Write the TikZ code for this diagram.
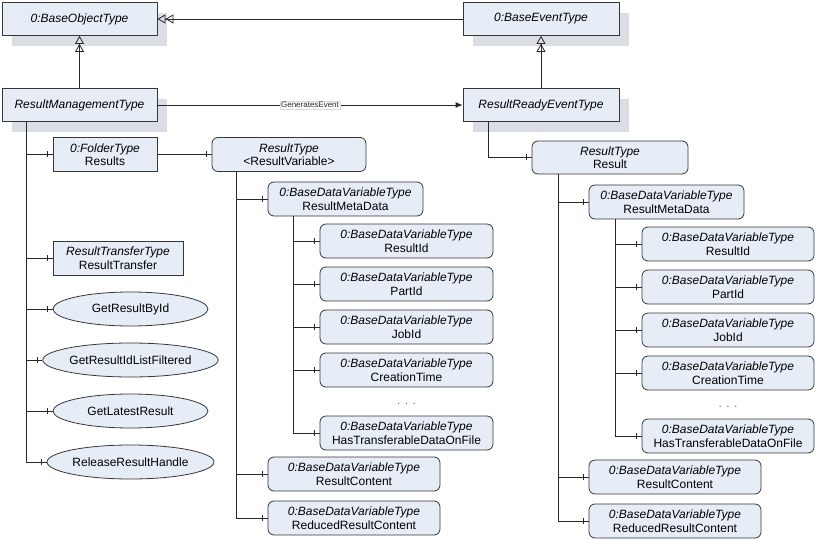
\documentclass[tikz,border=0pt]{standalone}
\usepackage{fontspec}
\setmainfont{Liberation Sans}
\usepackage{tikz}
\usetikzlibrary{shapes.geometric, arrows.meta, positioning, shadows,
                decorations.markings}
\definecolor{myfill}{RGB}{231,237,247}
\definecolor{myshadow}{RGB}{218,221,227}
\definecolor{myborder}{RGB}{55,55,55}
\definecolor{mydark}{RGB}{40,40,40}
\definecolor{mydots}{RGB}{110,110,110}
\newcommand{\uafont}{\fontsize{12}{13.5}\selectfont}
\tikzset{
  typebox/.style={rectangle, draw=myborder, fill=myfill,
    minimum width=155pt, minimum height=33pt, inner sep=1pt,
    font=\uafont\itshape, line width=0.8pt,
    general shadow={fill=myshadow, shadow xshift=10pt, shadow yshift=-11pt}},
  objbox/.style={rectangle, draw=myborder, fill=myfill, align=center,
    minimum height=34pt, inner sep=1pt, font=\uafont, line width=0.8pt},
  varbox/.style={objbox, rounded corners=6pt},
  methnode/.style={ellipse, draw=myborder, fill=myfill, minimum width=155pt,
    minimum height=34pt, inner sep=1pt, font=\uafont, line width=0.8pt},
  subtype/.style={-{Triangle[open,length=8pt,width=9pt]Triangle[open,length=8pt,width=9pt]},
    line width=0.8pt, color=mydark},
  genref/.style={-{Latex[length=7pt,width=6pt]}, line width=0.8pt, color=mydark},
  hasref/.style={line width=0.8pt, color=mydark, postaction={decorate,
    decoration={markings, mark=at position -5pt with
      {\draw[line width=0.8pt] (0,-3pt) -- (0,3pt);}}}},
  evlabel/.style={fill=white, draw=black!15, line width=0.3pt, inner sep=1pt,
    font=\fontsize{8}{9}\selectfont},
  dotlabel/.style={font=\uafont, text=mydots}
}

\begin{document}
\begin{tikzpicture}[x=1pt, y=-1pt]
  \useasboundingbox (0,0) rectangle (816,540);
  % type hierarchy
  \node[typebox] (bot) at (79.5,19) {0:BaseObjectType};
  \node[typebox] (rmt) at (79.5,105) {ResultManagementType};
  \node[typebox, minimum width=156pt] (bet) at (541,19) {0:BaseEventType};
  \node[typebox, minimum width=156pt] (rret) at (541,105) {ResultReadyEventType};
  \draw[subtype] (rmt) -- (bot);
  \draw[subtype] (rret) -- (bet);
  \draw[subtype] (bet) -- (bot);
  \draw[genref] (rmt) -- node[evlabel] {GeneratesEvent} (rret);

  % components of ResultManagementType
  \node[objbox, minimum width=104pt] (folder) at (105,154.5) {\textit{0:FolderType}\\Results};
  \node[objbox, minimum width=130pt] (xfer) at (118,258) {\textit{ResultTransferType}\\ResultTransfer};
  \foreach \nm/\y in {GetResultById/309, GetResultIdListFiltered/360,
                      GetLatestResult/411, ReleaseResultHandle/462}
    \node[methnode] (\nm) at (130.5,\y) {\nm};
  \foreach \nm in {folder, xfer, GetResultById, GetResultIdListFiltered,
                   GetLatestResult, ReleaseResultHandle}
    \draw[hasref] ([xshift=25pt]rmt.south west) |- (\nm.west);

  % result variable in the folder
  \node[varbox, minimum width=154pt] (rtype) at (289,154.5) {\textit{ResultType}\\<ResultVariable>};
  \draw[hasref] (folder) -- (rtype);
  \node[varbox, minimum width=155pt] (lmeta) at (345.5,199) {\textit{0:BaseDataVariableType}\\ResultMetaData};
  \foreach \nm/\txt/\y in {lrid/ResultId/241, lpid/PartId/284, ljid/JobId/327,
                           lct/CreationTime/370, lhtd/HasTransferableDataOnFile/433}
    \node[varbox, minimum width=173pt] (\nm) at (406.5,\y) {\textit{0:BaseDataVariableType}\\\txt};
  \node[dotlabel] (ldots) at (406.5,404) {. . .};
  \node[varbox, minimum width=172pt] (lcont) at (354,474) {\textit{0:BaseDataVariableType}\\ResultContent};
  \node[varbox, minimum width=172pt] (lred) at (354,518) {\textit{0:BaseDataVariableType}\\ReducedResultContent};
  \foreach \nm in {lmeta, lcont, lred}
    \draw[hasref] ([xshift=25pt]rtype.south west) |- (\nm.west);
  \foreach \nm in {lrid, lpid, ljid, lct, lhtd}
    \draw[hasref] ([xshift=26pt]lmeta.south west) |- (\nm.west);

  % result of the event
  \node[varbox, minimum width=156pt, minimum height=33pt] (rres) at (610,157.5) {\textit{ResultType}\\Result};
  \draw[hasref] ([xshift=26pt]rret.south west) |- (rres.west);
  \node[varbox, minimum width=155pt] (rmeta) at (666.5,202) {\textit{0:BaseDataVariableType}\\ResultMetaData};
  \foreach \nm/\txt/\y in {rrid/ResultId/244, rpid/PartId/287, rjid/JobId/330,
                           rct/CreationTime/373, rhtd/HasTransferableDataOnFile/436}
    \node[varbox, minimum width=172pt] (\nm) at (728,\y) {\textit{0:BaseDataVariableType}\\\txt};
  \node[dotlabel] (rdots) at (728,407) {. . .};
  \node[varbox, minimum width=172pt] (rcont) at (675,477) {\textit{0:BaseDataVariableType}\\ResultContent};
  \node[varbox, minimum width=172pt] (rred) at (675,521) {\textit{0:BaseDataVariableType}\\ReducedResultContent};
  \foreach \nm in {rmeta, rcont, rred}
    \draw[hasref] ([xshift=27pt]rres.south west) |- (\nm.west);
  \foreach \nm in {rrid, rpid, rjid, rct, rhtd}
    \draw[hasref] ([xshift=27pt]rmeta.south west) |- (\nm.west);
\end{tikzpicture}
\end{document}
